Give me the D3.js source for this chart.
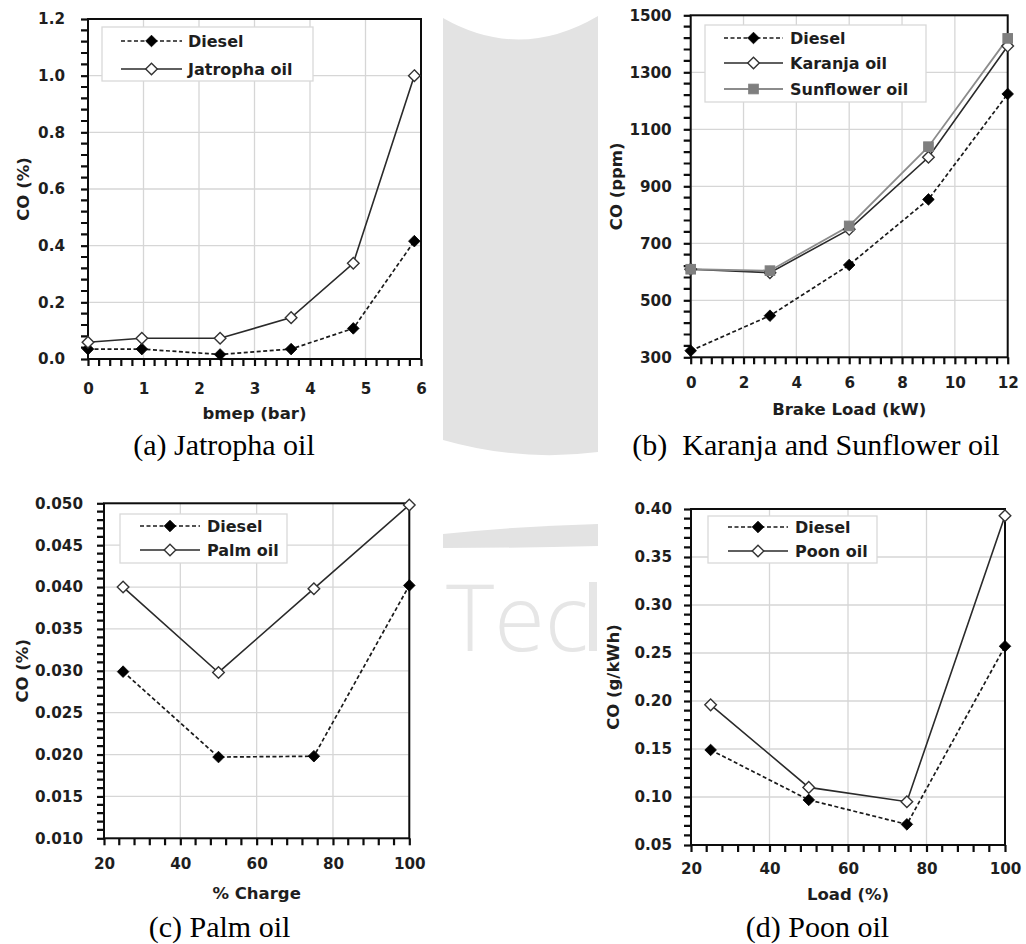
<!DOCTYPE html>
<html>
<head>
<meta charset="utf-8">
<script src="https://cdn.jsdelivr.net/npm/d3@7"></script>
<style>
  html, body { margin: 0; padding: 0; background: #fff; }
  svg { display: block; }
  .tick text { font-family: "DejaVu Sans", sans-serif; font-weight: bold; font-size: 15.2px; fill: #1e1e1e; }
  .axis-title { font-family: "DejaVu Sans", sans-serif; font-weight: bold; font-size: 16.5px; fill: #1e1e1e; }
  .legend-text { font-family: "DejaVu Sans", sans-serif; font-weight: bold; font-size: 16px; fill: #1e1e1e; }
  .caption { font-family: "Liberation Serif", "Times New Roman", serif; font-size: 30px; fill: #000; }
</style>
</head>
<body>
<svg id="fig" width="1026" height="944"></svg>
<script>
// ---- (a) Jatropha oil ----
const jatrophaBmep   = [0, 0.97, 2.38, 3.66, 4.78, 5.88];
const jatrophaDiesel = [0.035, 0.035, 0.016, 0.035, 0.108, 0.416];
const jatrophaOil    = [0.059, 0.073, 0.073, 0.146, 0.338, 1.0];
const jatrophaXTicks = [0, 1, 2, 3, 4, 5, 6];
const jatrophaYTicks = [0, 0.2, 0.4, 0.6, 0.8, 1.0, 1.2];

// ---- (b) Karanja and Sunflower oil ----
const brakeLoad      = [0, 3, 6, 9, 12];
const karanjaDiesel  = [323, 446, 624, 854, 1224];
const karanjaOil     = [609, 597, 749, 1002, 1392];
const sunflowerOil   = [609, 604, 761, 1039, 1419];
const brakeXTicks    = [0, 2, 4, 6, 8, 10, 12];
const brakeYTicks    = [300, 500, 700, 900, 1100, 1300, 1500];

// ---- (c) Palm oil ----
const palmCharge     = [25, 50, 75, 100];
const palmDiesel     = [0.0299, 0.0197, 0.0198, 0.0402];
const palmOil        = [0.0400, 0.0298, 0.0398, 0.0498];
const palmXTicks     = [20, 40, 60, 80, 100];
const palmYTicks     = [0.010, 0.015, 0.020, 0.025, 0.030, 0.035, 0.040, 0.045, 0.050];

// ---- (d) Poon oil ----
const poonLoad       = [25, 50, 75, 100];
const poonDiesel     = [0.149, 0.097, 0.0715, 0.257];
const poonOil        = [0.196, 0.110, 0.0951, 0.393];
const poonXTicks     = [20, 40, 60, 80, 100];
const poonYTicks     = [0.05, 0.10, 0.15, 0.20, 0.25, 0.30, 0.35, 0.40];

const svg = d3.select("#fig");

// faint institutional watermark behind the panels
const wm = svg.append("g").attr("fill", "#e3e3e3");
wm.append("path").attr("d",
  "M443,18 Q520,62 598,16 L598,452 Q520,462 443,440 Z");
wm.append("path").attr("d", "M443,534 Q520,526 598,524 L598,546 Q520,548 443,548 Z");
wm.append("text").attr("x", 446).attr("y", 651)
  .attr("font-family", "Open Sans, sans-serif").attr("font-weight", 300)
  .attr("font-size", 92).attr("fill", "#e6e6e6").text("Tec");
wm.append("rect").attr("x", 589).attr("y", 582).attr("width", 8).attr("height", 69).attr("fill", "#e6e6e6");
// panels sit on white cards covering the watermark
const cards = [[0, 5, 443, 423], [598, 0, 428, 428], [0, 500, 443, 444], [598, 500, 428, 444]];
svg.append("g").selectAll("rect").data(cards).join("rect")
  .attr("x", d => d[0]).attr("y", d => d[1]).attr("width", d => d[2]).attr("height", d => d[3])
  .attr("fill", "#fff");

const dieselStyle = { stroke: "#1a1a1a", dash: "4,2.5", width: 1.7, marker: "diamondFilled" };
const oilStyle    = { stroke: "#2a2a2a", dash: null, width: 1.6, marker: "diamondOpen" };
const sunStyle    = { stroke: "#8c8c8c", dash: null, width: 1.8, marker: "square" };

const TICK = 7, TICK_W = 2.2, AXIS_COLOR = "#0d0d0d";

const panels = [
  {
    plot: { x0: 88, x1: 421, y0: 19, y1: 359 },
    xDomain: [0, 6], yDomain: [0, 1.2], xSub: 5, ySub: 5,
    xTicks: jatrophaXTicks, yTicks: jatrophaYTicks, xFmt: d3.format("d"), yFmt: d3.format(".1f"),
    yPad: 16, xPad: 17,
    xTitle: "bmep (bar)", xTitleY: 419, yTitle: "CO (%)", yTitleX: 23,
    x: jatrophaBmep,
    series: [
      { name: "Diesel", values: jatrophaDiesel, style: dieselStyle },
      { name: "Jatropha oil", values: jatrophaOil, style: oilStyle }
    ],
    legend: { x: 102, y: 27, w: 211, h: 54, rows: [41, 69], lx0: 121, lx1: 182, tx: 188 },
    caption: "(a) Jatropha oil", capX: 224, capY: 455
  },
  {
    plot: { x0: 690.7, x1: 1007.7, y0: 15.3, y1: 357.3 },
    xDomain: [0, 12], yDomain: [300, 1500], xSub: 5, ySub: 5,
    xTicks: brakeXTicks, yTicks: brakeYTicks, xFmt: d3.format("d"), yFmt: d3.format("d"),
    yPad: 12, xPad: 13,
    xTitle: "Brake Load (kW)", xTitleY: 415, yTitle: "CO (ppm)", yTitleX: 616,
    x: brakeLoad,
    series: [
      { name: "Diesel", values: karanjaDiesel, style: dieselStyle },
      { name: "Karanja oil", values: karanjaOil, style: oilStyle },
      { name: "Sunflower oil", values: sunflowerOil, style: sunStyle }
    ],
    legend: { x: 705, y: 25, w: 221, h: 77, rows: [38, 63, 89], lx0: 724, lx1: 783, tx: 790 },
    caption: "(b)\u00a0 Karanja and Sunflower oil", capX: 816, capY: 455
  },
  {
    plot: { x0: 104, x1: 409.3, y0: 503.3, y1: 838.3 },
    xDomain: [20, 100], yDomain: [0.010, 0.050], xSub: 5, ySub: 5,
    xTicks: palmXTicks, yTicks: palmYTicks, xFmt: d3.format("d"), yFmt: d3.format(".3f"),
    yPad: 14, xPad: 13,
    xTitle: "% Charge", xTitleY: 899, yTitle: "CO (%)", yTitleX: 22.5,
    x: palmCharge,
    series: [
      { name: "Diesel", values: palmDiesel, style: dieselStyle },
      { name: "Palm oil", values: palmOil, style: oilStyle }
    ],
    legend: { x: 120, y: 514, w: 167, h: 49, rows: [526, 550], lx0: 140, lx1: 200, tx: 207 },
    caption: "(c) Palm oil", capX: 219.5, capY: 937
  },
  {
    plot: { x0: 691, x1: 1005, y0: 509, y1: 845 },
    xDomain: [20, 100], yDomain: [0.05, 0.40], xSub: 5, ySub: 5,
    xTicks: poonXTicks, yTicks: poonYTicks, xFmt: d3.format("d"), yFmt: d3.format(".2f"),
    yPad: 12, xPad: 11,
    xTitle: "Load (%)", xTitleY: 900, yTitle: "CO (g/kWh)", yTitleX: 613,
    x: poonLoad,
    series: [
      { name: "Diesel", values: poonDiesel, style: dieselStyle },
      { name: "Poon oil", values: poonOil, style: oilStyle }
    ],
    legend: { x: 708, y: 516, w: 169, h: 47, rows: [527, 551], lx0: 728, lx1: 788, tx: 795 },
    caption: "(d) Poon oil", capX: 817.5, capY: 937
  }
];

function drawMarker(g, kind, cx, cy) {
  if (kind === "diamondFilled") {
    const r = 5.8;
    g.append("path").attr("d", `M${cx},${cy - r}L${cx + r},${cy}L${cx},${cy + r}L${cx - r},${cy}Z`)
      .attr("fill", "#000").attr("stroke", "#000").attr("stroke-width", 0.8);
  } else if (kind === "diamondOpen") {
    const r = 5.8;
    g.append("path").attr("d", `M${cx},${cy - r}L${cx + r},${cy}L${cx},${cy + r}L${cx - r},${cy}Z`)
      .attr("fill", "#fff").attr("stroke", "#333").attr("stroke-width", 1.4);
  } else {
    const s = 4.8;
    g.append("rect").attr("x", cx - s).attr("y", cy - s).attr("width", 2 * s).attr("height", 2 * s)
      .attr("fill", "#7f7f7f").attr("stroke", "#7f7f7f");
  }
}

// values between major ticks, each major interval split into `sub` parts
function subdivide(majors, sub) {
  const out = [];
  for (let i = 0; i < majors.length - 1; i++) {
    const a = majors[i], b = majors[i + 1];
    for (let k = 1; k < sub; k++) out.push(a + (b - a) * k / sub);
  }
  return out;
}

panels.forEach(p => {
  const g = svg.append("g");
  const x = d3.scaleLinear().domain(p.xDomain).range([p.plot.x0, p.plot.x1]);
  const y = d3.scaleLinear().domain(p.yDomain).range([p.plot.y1, p.plot.y0]);

  // gridlines
  const grid = g.append("g").attr("stroke", "#d6d6d6").attr("stroke-width", 1.3);
  grid.selectAll("line.gx").data(p.xTicks).join("line").attr("class", "gx")
    .attr("x1", d => x(d)).attr("x2", d => x(d)).attr("y1", p.plot.y0).attr("y2", p.plot.y1);
  grid.selectAll("line.gy").data(p.yTicks).join("line").attr("class", "gy")
    .attr("y1", d => y(d)).attr("y2", d => y(d)).attr("x1", p.plot.x0).attr("x2", p.plot.x1);

  // minor tick marks, drawn as one path per axis pair
  const xm = subdivide(p.xTicks, p.xSub);
  const ym = subdivide(p.yTicks, p.ySub);
  const xPath = xm.map(d => `M${x(d)},${p.plot.y1}v${TICK}`).join("");
  const yPath = ym.map(d => `M${p.plot.x0},${y(d)}h${-TICK}`).join("");
  g.append("path").attr("d", xPath + yPath).attr("fill", "none")
    .attr("stroke", AXIS_COLOR).attr("stroke-width", TICK_W);

  // major axes with labels
  g.append("g").attr("transform", `translate(0,${p.plot.y1})`)
    .call(d3.axisBottom(x).tickValues(p.xTicks).tickFormat(p.xFmt).tickSize(TICK).tickPadding(p.xPad))
    .call(a => a.select(".domain").remove())
    .call(a => a.selectAll(".tick line").attr("stroke", AXIS_COLOR).attr("stroke-width", TICK_W));
  g.append("g").attr("transform", `translate(${p.plot.x0},0)`)
    .call(d3.axisLeft(y).tickValues(p.yTicks).tickFormat(p.yFmt).tickSize(TICK).tickPadding(p.yPad))
    .call(a => a.select(".domain").remove())
    .call(a => a.selectAll(".tick line").attr("stroke", AXIS_COLOR).attr("stroke-width", TICK_W));

  // plot frame
  g.append("rect").attr("x", p.plot.x0).attr("y", p.plot.y0)
    .attr("width", p.plot.x1 - p.plot.x0).attr("height", p.plot.y1 - p.plot.y0)
    .attr("fill", "none").attr("stroke", AXIS_COLOR).attr("stroke-width", 2);

  // series lines and markers
  p.series.forEach(s => {
    const pts = p.x.map((xv, i) => [x(xv), y(s.values[i])]);
    g.append("path").attr("d", d3.line()(pts)).attr("fill", "none")
      .attr("stroke", s.style.stroke).attr("stroke-width", s.style.width)
      .attr("stroke-dasharray", s.style.dash);
  });
  p.series.forEach(s => {
    p.x.forEach((xv, i) => drawMarker(g, s.style.marker, x(xv), y(s.values[i])));
  });

  // legend
  const L = p.legend;
  const lg = g.append("g");
  lg.append("rect").attr("x", L.x).attr("y", L.y).attr("width", L.w).attr("height", L.h)
    .attr("fill", "#fff").attr("stroke", "#d9d9d9").attr("stroke-width", 1.3);
  p.series.forEach((s, i) => {
    const ry = L.rows[i];
    lg.append("line").attr("x1", L.lx0).attr("x2", L.lx1).attr("y1", ry).attr("y2", ry)
      .attr("stroke", s.style.stroke).attr("stroke-width", s.style.width)
      .attr("stroke-dasharray", s.style.dash);
    drawMarker(lg, s.style.marker, (L.lx0 + L.lx1) / 2, ry);
    lg.append("text").attr("class", "legend-text").attr("x", L.tx).attr("y", ry)
      .attr("dy", "0.36em").text(s.name);
  });

  // axis titles
  g.append("text").attr("class", "axis-title").attr("text-anchor", "middle")
    .attr("x", (p.plot.x0 + p.plot.x1) / 2).attr("y", p.xTitleY).text(p.xTitle);
  g.append("text").attr("class", "axis-title").attr("text-anchor", "middle")
    .attr("transform", `translate(${p.yTitleX},${(p.plot.y0 + p.plot.y1) / 2}) rotate(-90)`)
    .attr("dy", "0.36em").text(p.yTitle);

  // caption
  svg.append("text").attr("class", "caption").attr("text-anchor", "middle")
    .attr("x", p.capX).attr("y", p.capY).text(p.caption);
});
</script>
</body>
</html>
